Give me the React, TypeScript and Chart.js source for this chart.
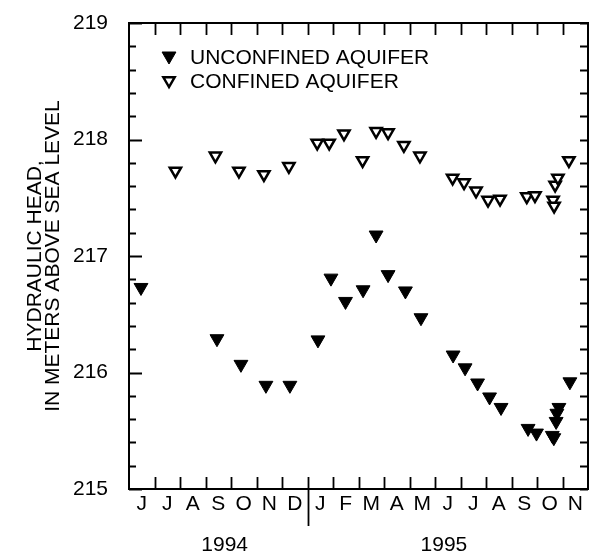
import React, { useEffect, useRef } from 'react';
import { Chart, registerables } from 'chart.js';

Chart.register(...registerables);

// ---- data (x = months since 1 June 1994) ----
const MONTH_LABELS = ['J', 'J', 'A', 'S', 'O', 'N', 'D', 'J', 'F', 'M', 'A', 'M', 'J', 'J', 'A', 'S', 'O', 'N'];
const YEAR_LABELS = ['1994', '1995'];
const YEAR_LABEL_AT = [3.75, 12.35]; // month positions of the year captions
const YEAR_BREAK = 7; // month index where 1995 begins
const Y_TICKS = [215, 216, 217, 218, 219];

const UNCONFINED_T = [0.47, 3.45, 4.39, 5.37, 6.31, 7.41, 7.92, 8.49, 9.18, 9.69, 10.16, 10.84, 11.45, 12.71, 13.18, 13.67, 14.14, 14.59, 15.65, 15.98, 16.6, 16.66, 16.75, 16.78, 16.86, 17.29];
const UNCONFINED_HEAD = [216.73, 216.29, 216.07, 215.89, 215.89, 216.28, 216.81, 216.61, 216.71, 217.18, 216.84, 216.7, 216.47, 216.15, 216.04, 215.91, 215.79, 215.7, 215.52, 215.48, 215.46, 215.44, 215.58, 215.65, 215.7, 215.92];

const CONFINED_T = [1.82, 3.39, 4.31, 5.29, 6.27, 7.38, 7.85, 8.43, 9.16, 9.69, 10.16, 10.78, 11.41, 12.69, 13.14, 13.61, 14.08, 14.55, 15.6, 15.92, 16.63, 16.67, 16.71, 16.82, 17.25];
const CONFINED_HEAD = [217.73, 217.86, 217.73, 217.7, 217.77, 217.97, 217.97, 218.05, 217.82, 218.07, 218.06, 217.95, 217.86, 217.67, 217.63, 217.56, 217.48, 217.49, 217.51, 217.52, 217.48, 217.43, 217.61, 217.67, 217.82];

const LEGEND = ['UNCONFINED AQUIFER', 'CONFINED AQUIFER'];
const Y_TITLE = ['HYDRAULIC HEAD,', 'IN METERS ABOVE SEA LEVEL'];

const FONT = "'Liberation Sans', Arial, Helvetica, sans-serif";

function downTriangle(ctx: CanvasRenderingContext2D, x: number, y: number, r: number) {
  ctx.beginPath();
  ctx.moveTo(x, y + r);
  ctx.lineTo(x - 0.866 * r, y - 0.5 * r);
  ctx.lineTo(x + 0.866 * r, y - 0.5 * r);
  ctx.closePath();
}

function noPad(s: any) {
  s.paddingTop = 0;
  s.paddingBottom = 0;
  s.paddingLeft = 0;
  s.paddingRight = 0;
}

export default function App() {
  const ref = useRef<HTMLCanvasElement>(null);

  useEffect(() => {
    const canvas = ref.current!;

    const framePlugin = {
      id: 'frameTicks',
      afterDraw(chart: any) {
        const { ctx, chartArea: a, scales } = chart;
        const xs = scales.x;
        const ys = scales.y;
        ctx.save();
        ctx.strokeStyle = '#000';
        ctx.lineCap = 'butt';
        // tick marks
        ctx.lineWidth = 1.8;
        ctx.beginPath();
        const yMin = Y_TICKS[0];
        const yMax = Y_TICKS[Y_TICKS.length - 1];
        for (let k = 0; k <= (yMax - yMin) * 5; k++) {
          const v = yMin + k * 0.2;
          const py = Math.round(ys.getPixelForValue(v)) + 0.5;
          const major = k % 5 === 0;
          ctx.moveTo(a.left, py);
          ctx.lineTo(a.left + (major ? 13 : 7), py);
          ctx.moveTo(a.right, py);
          ctx.lineTo(a.right - 8, py);
        }
        for (let m = 1; m < MONTH_LABELS.length; m++) {
          const px = Math.round(xs.getPixelForValue(m)) + 0.5;
          ctx.moveTo(px, a.top);
          ctx.lineTo(px, a.top + 12);
          ctx.moveTo(px, a.bottom);
          ctx.lineTo(px, a.bottom - 12);
        }
        ctx.stroke();
        // year separator
        const sx = Math.round(xs.getPixelForValue(YEAR_BREAK)) + 0.5;
        ctx.beginPath();
        ctx.moveTo(sx, a.bottom);
        ctx.lineTo(sx, a.bottom + 37);
        ctx.stroke();
        // frame
        ctx.lineWidth = 2;
        ctx.strokeRect(a.left, a.top, a.right - a.left, a.bottom - a.top);

        // month and year captions, placed with the x scale
        ctx.font = `21px ${FONT}`;
        ctx.fillStyle = '#000';
        ctx.textBaseline = 'middle';
        ctx.textAlign = 'center';
        MONTH_LABELS.forEach((lab, i) => {
          ctx.fillText(lab, xs.getPixelForValue(i + 0.5), a.bottom + 15);
        });
        YEAR_LABELS.forEach((lab, i) => {
          ctx.fillText(lab, xs.getPixelForValue(YEAR_LABEL_AT[i]), a.bottom + 56);
        });

        // legend
        ctx.textAlign = 'left';
        const lx = a.left + 40;
        const ly = a.top + 35;
        downTriangle(ctx, lx, ly - 2, 8);
        ctx.fill();
        ctx.lineWidth = 1;
        ctx.stroke();
        ctx.fillText(LEGEND[0], lx + 21, ly);
        ctx.lineWidth = 2.5;
        downTriangle(ctx, lx, ly + 22.5, 6.5);
        ctx.fillStyle = '#fff';
        ctx.fill();
        ctx.stroke();
        ctx.fillStyle = '#000';
        ctx.fillText(LEGEND[1], lx + 21, ly + 24.5);
        ctx.restore();
      },
    };

    const chart = new Chart(canvas, {
      type: 'scatter',
      data: {
        datasets: [
          {
            label: LEGEND[0],
            data: UNCONFINED_T.map((t, i) => ({ x: t, y: UNCONFINED_HEAD[i] })),
            pointStyle: 'triangle',
            pointRotation: 180,
            pointRadius: 8,
            pointBackgroundColor: '#000',
            pointBorderColor: '#000',
            pointBorderWidth: 1,
            showLine: false,
          },
          {
            label: LEGEND[1],
            data: CONFINED_T.map((t, i) => ({ x: t, y: CONFINED_HEAD[i] })),
            pointStyle: 'triangle',
            pointRotation: 180,
            pointRadius: 6.5,
            pointBackgroundColor: '#fff',
            pointBorderColor: '#000',
            pointBorderWidth: 2.5,
            showLine: false,
          },
        ],
      },
      options: {
        animation: false,
        responsive: false,
        events: [],
        layout: { autoPadding: false, padding: { top: 23, right: 1, left: 0, bottom: 0 } },
        plugins: {
          legend: { display: false },
          tooltip: { enabled: false },
        },
        scales: {
          x: {
            type: 'linear',
            position: 'bottom',
            min: 0,
            max: MONTH_LABELS.length,
            grid: { display: false, drawTicks: false },
            border: { display: false },
            ticks: { display: false },
            afterFit: (s: any) => {
              s.height = 64;
              noPad(s);
            },
          },
          y: {
            type: 'linear',
            min: Y_TICKS[0],
            max: Y_TICKS[Y_TICKS.length - 1],
            grid: { display: false, drawTicks: false },
            border: { display: false },
            afterBuildTicks: (s: any) => {
              s.ticks = Y_TICKS.map((v) => ({ value: v }));
            },
            afterFit: (s: any) => {
              s.width = 129;
              noPad(s);
            },
            ticks: {
              padding: 21,
              color: '#000',
              font: { family: FONT, size: 21 },
            },
            title: {
              display: true,
              text: Y_TITLE,
              color: '#000',
              padding: { top: 27, bottom: 0 },
              font: { family: FONT, size: 21, lineHeight: 0.82 },
            },
          },
        },
      },
      plugins: [framePlugin],
    } as any);

    return () => chart.destroy();
  }, []);

  return (
    <div style={{ position: 'absolute', left: 0, top: 0, width: 589, height: 553, background: '#fff' }}>
      <canvas ref={ref} width={589} height={553} style={{ width: 589, height: 553, display: 'block' }} />
    </div>
  );
}
